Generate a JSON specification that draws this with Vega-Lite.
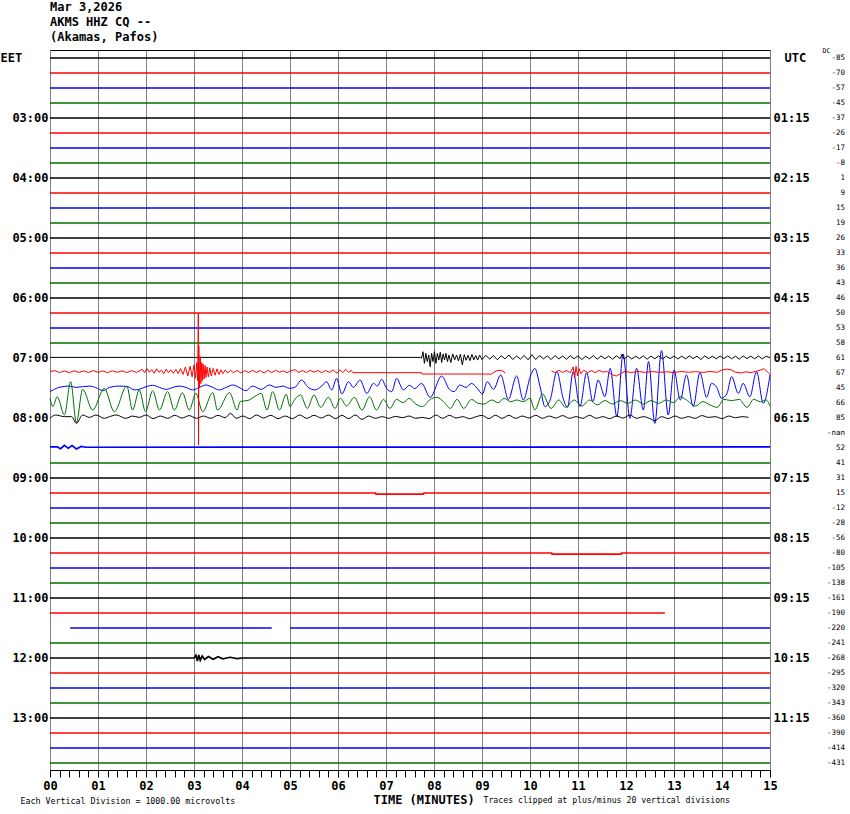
{
 "$schema": "https://vega.github.io/schema/vega-lite/v6.json",
 "width": 720,
 "height": 720,
 "autosize": {"type": "none"},
 "padding": {"left": 50, "top": 50, "right": 80, "bottom": 44},
 "background": "white",
 "title": {"text": ["Mar 3,2026", "AKMS HHZ CQ --", "(Akamas, Pafos)"], "anchor": "start", "frame": "group", "font": "DejaVu Sans Mono", "fontSize": 12, "fontWeight": "bold", "lineHeight": 15, "offset": 3, "color": "#000000"},
 "config": {
  "view": {"stroke": null},
  "axis": {"labelFont": "DejaVu Sans Mono", "labelFontWeight": "bold", "labelFontSize": 12, "labelColor": "#000000", "titleFont": "DejaVu Sans Mono", "titleColor": "#000000"}
 },
 "datasets": {
  "quiet": [
   {"s":"r0","q":"00","t":0,"y":0},{"s":"r0","q":"00","t":15,"y":0},
   {"s":"r1","q":"15","t":0,"y":1},{"s":"r1","q":"15","t":15,"y":1},
   {"s":"r2","q":"30","t":0,"y":2},{"s":"r2","q":"30","t":15,"y":2},
   {"s":"r3","q":"45","t":0,"y":3},{"s":"r3","q":"45","t":15,"y":3},
   {"s":"r4","q":"00","t":0,"y":4},{"s":"r4","q":"00","t":15,"y":4},
   {"s":"r5","q":"15","t":0,"y":5},{"s":"r5","q":"15","t":15,"y":5},
   {"s":"r6","q":"30","t":0,"y":6},{"s":"r6","q":"30","t":15,"y":6},
   {"s":"r7","q":"45","t":0,"y":7},{"s":"r7","q":"45","t":15,"y":7},
   {"s":"r8","q":"00","t":0,"y":8},{"s":"r8","q":"00","t":15,"y":8},
   {"s":"r9","q":"15","t":0,"y":9},{"s":"r9","q":"15","t":15,"y":9},
   {"s":"r10","q":"30","t":0,"y":10},{"s":"r10","q":"30","t":15,"y":10},
   {"s":"r11","q":"45","t":0,"y":11},{"s":"r11","q":"45","t":15,"y":11},
   {"s":"r12","q":"00","t":0,"y":12},{"s":"r12","q":"00","t":15,"y":12},
   {"s":"r13","q":"15","t":0,"y":13},{"s":"r13","q":"15","t":15,"y":13},
   {"s":"r14","q":"30","t":0,"y":14},{"s":"r14","q":"30","t":15,"y":14},
   {"s":"r15","q":"45","t":0,"y":15},{"s":"r15","q":"45","t":15,"y":15},
   {"s":"r16","q":"00","t":0,"y":16},{"s":"r16","q":"00","t":15,"y":16},
   {"s":"r17","q":"15","t":0,"y":17},{"s":"r17","q":"15","t":15,"y":17},
   {"s":"r18","q":"30","t":0,"y":18},{"s":"r18","q":"30","t":15,"y":18},
   {"s":"r19","q":"45","t":0,"y":19},{"s":"r19","q":"45","t":15,"y":19},
   {"s":"r26","q":"30","t":0,"y":25.93},{"s":"r26","q":"30","t":0.15,"y":25.93},{"s":"r26","q":"30","t":0.22,"y":26.05},{"s":"r26","q":"30","t":0.3,"y":25.82},{"s":"r26","q":"30","t":0.38,"y":26.02},{"s":"r26","q":"30","t":0.46,"y":25.84},{"s":"r26","q":"30","t":0.55,"y":26.06},{"s":"r26","q":"30","t":0.65,"y":25.9},{"s":"r26","q":"30","t":0.75,"y":25.95},{"s":"r26","q":"30","t":15,"y":25.93},
   {"s":"r27","q":"45","t":0,"y":27},{"s":"r27","q":"45","t":15,"y":27},
   {"s":"r28","q":"00","t":0,"y":28},{"s":"r28","q":"00","t":15,"y":28},
   {"s":"r29","q":"15","t":0,"y":29},{"s":"r29","q":"15","t":6.78,"y":29},{"s":"r29","q":"15","t":6.79,"y":29.08},{"s":"r29","q":"15","t":7.78,"y":29.08},{"s":"r29","q":"15","t":7.79,"y":29},{"s":"r29","q":"15","t":15,"y":29},
   {"s":"r30","q":"30","t":0,"y":30},{"s":"r30","q":"30","t":15,"y":30},
   {"s":"r31","q":"45","t":0,"y":31},{"s":"r31","q":"45","t":15,"y":31},
   {"s":"r32","q":"00","t":0,"y":32},{"s":"r32","q":"00","t":15,"y":32},
   {"s":"r33","q":"15","t":0,"y":33},{"s":"r33","q":"15","t":10.45,"y":33},{"s":"r33","q":"15","t":10.46,"y":33.08},{"s":"r33","q":"15","t":11.9,"y":33.08},{"s":"r33","q":"15","t":11.91,"y":33},{"s":"r33","q":"15","t":15,"y":33},
   {"s":"r34","q":"30","t":0,"y":34},{"s":"r34","q":"30","t":15,"y":34},
   {"s":"r35","q":"45","t":0,"y":35},{"s":"r35","q":"45","t":15,"y":35},
   {"s":"r36","q":"00","t":0,"y":36},{"s":"r36","q":"00","t":15,"y":36},
   {"s":"r37","q":"15","t":0,"y":37},{"s":"r37","q":"15","t":12.81,"y":37},
   {"s":"r38a","q":"30","t":0.42,"y":38},{"s":"r38a","q":"30","t":4.62,"y":38},
   {"s":"r38b","q":"30","t":5.0,"y":38},{"s":"r38b","q":"30","t":15,"y":38},
   {"s":"r39","q":"45","t":0,"y":39},{"s":"r39","q":"45","t":15,"y":39},
   {"s":"r40","q":"00","t":0,"y":40},{"s":"r40","q":"00","t":3.0,"y":40},{"s":"r40","q":"00","t":3.04,"y":39.82},{"s":"r40","q":"00","t":3.07,"y":40.2},{"s":"r40","q":"00","t":3.1,"y":39.8},{"s":"r40","q":"00","t":3.13,"y":40.15},{"s":"r40","q":"00","t":3.17,"y":39.86},{"s":"r40","q":"00","t":3.22,"y":40.1},{"s":"r40","q":"00","t":3.3,"y":39.9},{"s":"r40","q":"00","t":3.4,"y":40.08},{"s":"r40","q":"00","t":3.5,"y":39.92},{"s":"r40","q":"00","t":3.6,"y":40.06},{"s":"r40","q":"00","t":3.75,"y":39.95},{"s":"r40","q":"00","t":3.9,"y":40.04},{"s":"r40","q":"00","t":4.0,"y":40},{"s":"r40","q":"00","t":15,"y":40},
   {"s":"r41","q":"15","t":0,"y":41},{"s":"r41","q":"15","t":15,"y":41},
   {"s":"r42","q":"30","t":0,"y":42},{"s":"r42","q":"30","t":15,"y":42},
   {"s":"r43","q":"45","t":0,"y":43},{"s":"r43","q":"45","t":15,"y":43},
   {"s":"r44","q":"00","t":0,"y":44},{"s":"r44","q":"00","t":15,"y":44},
   {"s":"r45","q":"15","t":0,"y":45},{"s":"r45","q":"15","t":15,"y":45},
   {"s":"r46","q":"30","t":0,"y":46},{"s":"r46","q":"30","t":15,"y":46},
   {"s":"r47","q":"45","t":0,"y":47},{"s":"r47","q":"45","t":15,"y":47}
  ],
  "noise": [
   {"s":"a20","q":"00","t":0,"y":19.96},{"s":"a20","q":"00","t":7.72,"y":19.96},{"s":"a20","q":"00","t":7.74,"y":20.02},{"s":"a20","q":"00","t":7.77,"y":19.58},{"s":"a20","q":"00","t":7.8,"y":20.36},{"s":"a20","q":"00","t":7.83,"y":19.69},{"s":"a20","q":"00","t":7.86,"y":20.24},{"s":"a20","q":"00","t":7.89,"y":19.8},{"s":"a20","q":"00","t":7.92,"y":20.58},{"s":"a20","q":"00","t":7.95,"y":19.69},{"s":"a20","q":"00","t":7.98,"y":20.24},{"s":"a20","q":"00","t":8.01,"y":19.58},{"s":"a20","q":"00","t":8.04,"y":20.36},{"s":"a20","q":"00","t":8.07,"y":19.69},{"s":"a20","q":"00","t":8.1,"y":20.13},{"s":"a20","q":"00","t":8.13,"y":19.62},{"s":"a20","q":"00","t":8.16,"y":20.3},{"s":"a20","q":"00","t":8.19,"y":19.73},{"s":"a20","q":"00","t":8.22,"y":20.13},{"s":"a20","q":"00","t":8.25,"y":19.69},{"s":"a20","q":"00","t":8.28,"y":20.24},{"s":"a20","q":"00","t":8.31,"y":19.8},{"s":"a20","q":"00","t":8.35,"y":20.3},{"s":"a20","q":"00","t":8.39,"y":19.73},{"s":"a20","q":"00","t":8.43,"y":20.13},{"s":"a20","q":"00","t":8.47,"y":19.8},{"s":"a20","q":"00","t":8.51,"y":20.2},{"s":"a20","q":"00","t":8.55,"y":19.75},{"s":"a20","q":"00","t":8.59,"y":20.45},{"s":"a20","q":"00","t":8.63,"y":19.78},{"s":"a20","q":"00","t":8.67,"y":20.15},{"s":"a20","q":"00","t":8.71,"y":19.82},{"s":"a20","q":"00","t":8.75,"y":20.18},{"s":"a20","q":"00","t":8.79,"y":19.76},{"s":"a20","q":"00","t":8.83,"y":20.12},{"s":"a20","q":"00","t":8.87,"y":19.84},{"s":"a20","q":"00","t":8.91,"y":20.14},{"s":"a20","q":"00","t":8.95,"y":19.8},{"s":"a20","q":"00","t":9.0,"y":20.1},{"s":"a20","q":"00","t":9.08,"y":19.82},{"s":"a20","q":"00","t":9.16,"y":20.08},{"s":"a20","q":"00","t":9.24,"y":19.84},{"s":"a20","q":"00","t":9.32,"y":20.12},{"s":"a20","q":"00","t":9.4,"y":19.85},{"s":"a20","q":"00","t":9.48,"y":20.06},{"s":"a20","q":"00","t":9.56,"y":19.8},{"s":"a20","q":"00","t":9.64,"y":20.1},{"s":"a20","q":"00","t":9.72,"y":19.86},{"s":"a20","q":"00","t":9.8,"y":20.08},{"s":"a20","q":"00","t":9.88,"y":19.83},{"s":"a20","q":"00","t":9.96,"y":20.12},{"s":"a20","q":"00","t":10.04,"y":19.78},{"s":"a20","q":"00","t":10.12,"y":20.1},{"s":"a20","q":"00","t":10.2,"y":19.84},{"s":"a20","q":"00","t":10.28,"y":20.06},{"s":"a20","q":"00","t":10.36,"y":19.86},{"s":"a20","q":"00","t":10.44,"y":20.1},{"s":"a20","q":"00","t":10.52,"y":19.84},{"s":"a20","q":"00","t":10.6,"y":20.06},{"s":"a20","q":"00","t":10.68,"y":19.87},{"s":"a20","q":"00","t":10.76,"y":20.08},{"s":"a20","q":"00","t":10.84,"y":19.85},{"s":"a20","q":"00","t":10.92,"y":20.05},{"s":"a20","q":"00","t":11.0,"y":19.86},{"s":"a20","q":"00","t":11.08,"y":20.1},{"s":"a20","q":"00","t":11.16,"y":19.88},{"s":"a20","q":"00","t":11.24,"y":20.06},{"s":"a20","q":"00","t":11.32,"y":19.84},{"s":"a20","q":"00","t":11.4,"y":20.08},{"s":"a20","q":"00","t":11.48,"y":19.86},{"s":"a20","q":"00","t":11.56,"y":20.05},{"s":"a20","q":"00","t":11.64,"y":19.87},{"s":"a20","q":"00","t":11.72,"y":20.08},{"s":"a20","q":"00","t":11.8,"y":19.85},{"s":"a20","q":"00","t":11.88,"y":20.04},{"s":"a20","q":"00","t":11.92,"y":19.74},{"s":"a20","q":"00","t":11.96,"y":20.08},{"s":"a20","q":"00","t":12.04,"y":19.86},{"s":"a20","q":"00","t":12.12,"y":20.06},{"s":"a20","q":"00","t":12.2,"y":19.88},{"s":"a20","q":"00","t":12.28,"y":20.04},{"s":"a20","q":"00","t":12.36,"y":19.86},{"s":"a20","q":"00","t":12.44,"y":20.08},{"s":"a20","q":"00","t":12.52,"y":19.87},{"s":"a20","q":"00","t":12.6,"y":20.05},{"s":"a20","q":"00","t":12.68,"y":19.86},{"s":"a20","q":"00","t":12.76,"y":20.06},{"s":"a20","q":"00","t":12.84,"y":19.88},{"s":"a20","q":"00","t":12.92,"y":20.04},{"s":"a20","q":"00","t":13.0,"y":19.87},{"s":"a20","q":"00","t":13.08,"y":20.06},{"s":"a20","q":"00","t":13.16,"y":19.88},{"s":"a20","q":"00","t":13.24,"y":20.05},{"s":"a20","q":"00","t":13.32,"y":19.86},{"s":"a20","q":"00","t":13.4,"y":20.04},{"s":"a20","q":"00","t":13.48,"y":19.88},{"s":"a20","q":"00","t":13.56,"y":20.1},{"s":"a20","q":"00","t":13.64,"y":19.86},{"s":"a20","q":"00","t":13.72,"y":20.04},{"s":"a20","q":"00","t":13.8,"y":19.88},{"s":"a20","q":"00","t":13.88,"y":20.05},{"s":"a20","q":"00","t":13.96,"y":19.87},{"s":"a20","q":"00","t":14.04,"y":20.04},{"s":"a20","q":"00","t":14.12,"y":19.86},{"s":"a20","q":"00","t":14.2,"y":20.05},{"s":"a20","q":"00","t":14.28,"y":19.88},{"s":"a20","q":"00","t":14.36,"y":20.08},{"s":"a20","q":"00","t":14.44,"y":19.86},{"s":"a20","q":"00","t":14.52,"y":20.04},{"s":"a20","q":"00","t":14.6,"y":19.88},{"s":"a20","q":"00","t":14.68,"y":20.05},{"s":"a20","q":"00","t":14.76,"y":19.87},{"s":"a20","q":"00","t":14.84,"y":20.06},{"s":"a20","q":"00","t":14.92,"y":19.88},{"s":"a20","q":"00","t":15.0,"y":19.98},

   {"s":"a21a","q":"15","t":0,"y":20.91},{"s":"a21a","q":"15","t":0.1,"y":20.84},{"s":"a21a","q":"15","t":0.2,"y":20.97},{"s":"a21a","q":"15","t":0.3,"y":20.86},{"s":"a21a","q":"15","t":0.4,"y":20.98},{"s":"a21a","q":"15","t":0.5,"y":20.85},{"s":"a21a","q":"15","t":0.6,"y":20.96},{"s":"a21a","q":"15","t":0.7,"y":20.86},{"s":"a21a","q":"15","t":0.8,"y":20.97},{"s":"a21a","q":"15","t":0.9,"y":20.84},{"s":"a21a","q":"15","t":1.0,"y":20.96},{"s":"a21a","q":"15","t":1.1,"y":20.86},{"s":"a21a","q":"15","t":1.2,"y":20.98},{"s":"a21a","q":"15","t":1.3,"y":20.85},{"s":"a21a","q":"15","t":1.4,"y":20.95},{"s":"a21a","q":"15","t":1.5,"y":20.86},{"s":"a21a","q":"15","t":1.6,"y":20.97},{"s":"a21a","q":"15","t":1.7,"y":20.84},{"s":"a21a","q":"15","t":1.8,"y":20.96},{"s":"a21a","q":"15","t":1.87,"y":20.85},{"s":"a21a","q":"15","t":1.92,"y":20.75},{"s":"a21a","q":"15","t":1.97,"y":20.98},{"s":"a21a","q":"15","t":2.02,"y":20.7},{"s":"a21a","q":"15","t":2.07,"y":20.95},{"s":"a21a","q":"15","t":2.12,"y":20.78},{"s":"a21a","q":"15","t":2.17,"y":21.02},{"s":"a21a","q":"15","t":2.22,"y":20.72},{"s":"a21a","q":"15","t":2.27,"y":20.96},{"s":"a21a","q":"15","t":2.32,"y":20.8},{"s":"a21a","q":"15","t":2.37,"y":21.05},{"s":"a21a","q":"15","t":2.42,"y":20.74},{"s":"a21a","q":"15","t":2.47,"y":20.98},{"s":"a21a","q":"15","t":2.52,"y":20.79},{"s":"a21a","q":"15","t":2.57,"y":21.02},{"s":"a21a","q":"15","t":2.62,"y":20.76},{"s":"a21a","q":"15","t":2.67,"y":21.04},{"s":"a21a","q":"15","t":2.72,"y":20.7},{"s":"a21a","q":"15","t":2.77,"y":21.1},{"s":"a21a","q":"15","t":2.82,"y":20.6},{"s":"a21a","q":"15","t":2.87,"y":21.2},{"s":"a21a","q":"15","t":2.92,"y":20.55},{"s":"a21a","q":"15","t":2.96,"y":21.25},{"s":"a21a","q":"15","t":3.0,"y":20.45},{"s":"a21a","q":"15","t":3.03,"y":21.35},{"s":"a21a","q":"15","t":3.06,"y":20.3},{"s":"a21a","q":"15","t":3.075,"y":21.5},{"s":"a21a","q":"15","t":3.085,"y":19.1},{"s":"a21a","q":"15","t":3.09,"y":17.0},{"s":"a21a","q":"15","t":3.095,"y":25.8},{"s":"a21a","q":"15","t":3.1,"y":19.2},{"s":"a21a","q":"15","t":3.115,"y":22.0},{"s":"a21a","q":"15","t":3.13,"y":19.9},{"s":"a21a","q":"15","t":3.145,"y":21.7},{"s":"a21a","q":"15","t":3.16,"y":20.3},{"s":"a21a","q":"15","t":3.175,"y":21.5},{"s":"a21a","q":"15","t":3.19,"y":20.4},{"s":"a21a","q":"15","t":3.21,"y":21.4},{"s":"a21a","q":"15","t":3.23,"y":20.5},{"s":"a21a","q":"15","t":3.25,"y":21.3},{"s":"a21a","q":"15","t":3.27,"y":20.6},{"s":"a21a","q":"15","t":3.3,"y":21.25},{"s":"a21a","q":"15","t":3.33,"y":20.65},{"s":"a21a","q":"15","t":3.36,"y":21.2},{"s":"a21a","q":"15","t":3.4,"y":20.7},{"s":"a21a","q":"15","t":3.44,"y":21.15},{"s":"a21a","q":"15","t":3.48,"y":20.72},{"s":"a21a","q":"15","t":3.52,"y":21.1},{"s":"a21a","q":"15","t":3.56,"y":20.78},{"s":"a21a","q":"15","t":3.6,"y":21.05},{"s":"a21a","q":"15","t":3.65,"y":20.8},{"s":"a21a","q":"15","t":3.7,"y":21.0},{"s":"a21a","q":"15","t":3.76,"y":20.82},{"s":"a21a","q":"15","t":3.82,"y":20.98},{"s":"a21a","q":"15","t":3.9,"y":20.83},{"s":"a21a","q":"15","t":3.98,"y":21.0},{"s":"a21a","q":"15","t":4.06,"y":20.84},{"s":"a21a","q":"15","t":4.14,"y":20.97},{"s":"a21a","q":"15","t":4.22,"y":20.82},{"s":"a21a","q":"15","t":4.3,"y":20.96},{"s":"a21a","q":"15","t":4.38,"y":20.84},{"s":"a21a","q":"15","t":4.46,"y":21.0},{"s":"a21a","q":"15","t":4.54,"y":20.83},{"s":"a21a","q":"15","t":4.62,"y":20.97},{"s":"a21a","q":"15","t":4.7,"y":20.82},{"s":"a21a","q":"15","t":4.78,"y":20.95},{"s":"a21a","q":"15","t":4.86,"y":20.86},{"s":"a21a","q":"15","t":4.94,"y":20.98},{"s":"a21a","q":"15","t":5.02,"y":20.84},{"s":"a21a","q":"15","t":5.1,"y":20.78},{"s":"a21a","q":"15","t":5.18,"y":20.96},{"s":"a21a","q":"15","t":5.26,"y":20.84},{"s":"a21a","q":"15","t":5.34,"y":20.97},{"s":"a21a","q":"15","t":5.42,"y":20.82},{"s":"a21a","q":"15","t":5.5,"y":20.95},{"s":"a21a","q":"15","t":5.58,"y":20.83},{"s":"a21a","q":"15","t":5.66,"y":20.98},{"s":"a21a","q":"15","t":5.74,"y":20.84},{"s":"a21a","q":"15","t":5.82,"y":20.96},{"s":"a21a","q":"15","t":5.9,"y":20.8},{"s":"a21a","q":"15","t":5.98,"y":21.02},{"s":"a21a","q":"15","t":6.04,"y":20.78},{"s":"a21a","q":"15","t":6.1,"y":20.98},{"s":"a21a","q":"15","t":6.16,"y":20.76},{"s":"a21a","q":"15","t":6.22,"y":20.95},{"s":"a21a","q":"15","t":6.28,"y":20.84},{"s":"a21a","q":"15","t":6.31,"y":20.98},{"s":"a21a","q":"15","t":7.74,"y":20.98},{"s":"a21a","q":"15","t":7.75,"y":21.07},{"s":"a21a","q":"15","t":9.2,"y":21.07},{"s":"a21a","q":"15","t":9.25,"y":20.95},{"s":"a21a","q":"15","t":9.32,"y":20.84},{"s":"a21a","q":"15","t":9.4,"y":20.82},{"s":"a21a","q":"15","t":9.46,"y":20.92},{"s":"a21a","q":"15","t":9.48,"y":21.02},

   {"s":"a21b","q":"15","t":10.45,"y":20.86},{"s":"a21b","q":"15","t":10.52,"y":20.98},{"s":"a21b","q":"15","t":10.6,"y":20.82},{"s":"a21b","q":"15","t":10.68,"y":20.96},{"s":"a21b","q":"15","t":10.76,"y":20.84},{"s":"a21b","q":"15","t":10.84,"y":20.98},{"s":"a21b","q":"15","t":10.9,"y":20.6},{"s":"a21b","q":"15","t":10.93,"y":21.3},{"s":"a21b","q":"15","t":10.96,"y":20.55},{"s":"a21b","q":"15","t":10.99,"y":21.2},{"s":"a21b","q":"15","t":11.02,"y":20.7},{"s":"a21b","q":"15","t":11.06,"y":21.05},{"s":"a21b","q":"15","t":11.12,"y":20.82},{"s":"a21b","q":"15","t":11.2,"y":20.97},{"s":"a21b","q":"15","t":11.28,"y":20.84},{"s":"a21b","q":"15","t":11.36,"y":20.98},{"s":"a21b","q":"15","t":11.44,"y":20.82},{"s":"a21b","q":"15","t":11.52,"y":20.94},{"s":"a21b","q":"15","t":11.6,"y":20.9},{"s":"a21b","q":"15","t":11.72,"y":21.12},{"s":"a21b","q":"15","t":11.8,"y":21.2},{"s":"a21b","q":"15","t":11.88,"y":21.05},{"s":"a21b","q":"15","t":11.98,"y":20.88},{"s":"a21b","q":"15","t":12.1,"y":20.97},{"s":"a21b","q":"15","t":12.25,"y":20.9},{"s":"a21b","q":"15","t":12.4,"y":20.96},{"s":"a21b","q":"15","t":12.55,"y":20.9},{"s":"a21b","q":"15","t":12.7,"y":20.96},{"s":"a21b","q":"15","t":12.85,"y":20.92},{"s":"a21b","q":"15","t":13.0,"y":20.97},{"s":"a21b","q":"15","t":13.15,"y":20.9},{"s":"a21b","q":"15","t":13.3,"y":20.95},{"s":"a21b","q":"15","t":13.45,"y":20.91},{"s":"a21b","q":"15","t":13.6,"y":20.96},{"s":"a21b","q":"15","t":13.75,"y":20.9},{"s":"a21b","q":"15","t":13.9,"y":20.95},{"s":"a21b","q":"15","t":14.0,"y":20.8},{"s":"a21b","q":"15","t":14.1,"y":20.74},{"s":"a21b","q":"15","t":14.2,"y":20.8},{"s":"a21b","q":"15","t":14.28,"y":20.95},{"s":"a21b","q":"15","t":14.4,"y":21.0},{"s":"a21b","q":"15","t":14.5,"y":20.92},{"s":"a21b","q":"15","t":14.6,"y":20.97},{"s":"a21b","q":"15","t":14.7,"y":20.9},{"s":"a21b","q":"15","t":14.8,"y":20.8},{"s":"a21b","q":"15","t":14.88,"y":20.72},{"s":"a21b","q":"15","t":14.95,"y":20.95},{"s":"a21b","q":"15","t":15.0,"y":21.1}
  ],
  "active": [
   {"s":"a22","q":"30","t":0,"y":22.24},{"s":"a22","q":"30","t":0.09,"y":22.09},{"s":"a22","q":"30","t":0.19,"y":21.96},{"s":"a22","q":"30","t":0.4,"y":21.87},{"s":"a22","q":"30","t":0.54,"y":21.96},{"s":"a22","q":"30","t":0.82,"y":21.87},{"s":"a22","q":"30","t":0.99,"y":22.02},{"s":"a22","q":"30","t":1.1,"y":22.18},{"s":"a22","q":"30","t":1.24,"y":21.96},{"s":"a22","q":"30","t":1.44,"y":21.87},{"s":"a22","q":"30","t":1.62,"y":21.91},{"s":"a22","q":"30","t":1.76,"y":22.13},{"s":"a22","q":"30","t":1.86,"y":22.09},{"s":"a22","q":"30","t":2.0,"y":21.91},{"s":"a22","q":"30","t":2.14,"y":21.82},{"s":"a22","q":"30","t":2.28,"y":21.96},{"s":"a22","q":"30","t":2.42,"y":22.09},{"s":"a22","q":"30","t":2.56,"y":21.96},{"s":"a22","q":"30","t":2.69,"y":21.87},{"s":"a22","q":"30","t":2.83,"y":21.96},{"s":"a22","q":"30","t":2.97,"y":22.13},{"s":"a22","q":"30","t":3.11,"y":21.96},{"s":"a22","q":"30","t":3.25,"y":21.8},{"s":"a22","q":"30","t":3.39,"y":21.96},{"s":"a22","q":"30","t":3.53,"y":22.13},{"s":"a22","q":"30","t":3.67,"y":21.96},{"s":"a22","q":"30","t":3.81,"y":21.8},{"s":"a22","q":"30","t":3.94,"y":21.96},{"s":"a22","q":"30","t":4.08,"y":22.18},{"s":"a22","q":"30","t":4.22,"y":21.87},{"s":"a22","q":"30","t":4.4,"y":22.09},{"s":"a22","q":"30","t":4.57,"y":21.8},{"s":"a22","q":"30","t":4.71,"y":21.96},{"s":"a22","q":"30","t":4.85,"y":21.87},{"s":"a22","q":"30","t":4.99,"y":22.02},{"s":"a22","q":"30","t":5.1,"y":21.96},{"s":"a22","q":"30","t":5.24,"y":21.47},{"s":"a22","q":"30","t":5.38,"y":21.96},{"s":"a22","q":"30","t":5.52,"y":22.13},{"s":"a22","q":"30","t":5.66,"y":21.87},{"s":"a22","q":"30","t":5.76,"y":21.58},{"s":"a22","q":"30","t":5.87,"y":22.13},{"s":"a22","q":"30","t":5.97,"y":21.36},{"s":"a22","q":"30","t":6.08,"y":22.4},{"s":"a22","q":"30","t":6.22,"y":21.58},{"s":"a22","q":"30","t":6.32,"y":21.96},{"s":"a22","q":"30","t":6.46,"y":21.47},{"s":"a22","q":"30","t":6.6,"y":22.36},{"s":"a22","q":"30","t":6.74,"y":21.69},{"s":"a22","q":"30","t":6.82,"y":21.87},{"s":"a22","q":"30","t":6.91,"y":21.42},{"s":"a22","q":"30","t":7.01,"y":22.02},{"s":"a22","q":"30","t":7.12,"y":22.24},{"s":"a22","q":"30","t":7.22,"y":21.36},{"s":"a22","q":"30","t":7.36,"y":22.13},{"s":"a22","q":"30","t":7.49,"y":21.82},{"s":"a22","q":"30","t":7.6,"y":22.04},{"s":"a22","q":"30","t":7.74,"y":21.69},{"s":"a22","q":"30","t":7.92,"y":22.62},{"s":"a22","q":"30","t":8.16,"y":21.2},{"s":"a22","q":"30","t":8.32,"y":22.09},{"s":"a22","q":"30","t":8.42,"y":22.24},{"s":"a22","q":"30","t":8.54,"y":21.8},{"s":"a22","q":"30","t":8.67,"y":21.96},{"s":"a22","q":"30","t":8.78,"y":21.69},{"s":"a22","q":"30","t":8.9,"y":22.02},{"s":"a22","q":"30","t":9.01,"y":22.4},{"s":"a22","q":"30","t":9.11,"y":21.58},{"s":"a22","q":"30","t":9.24,"y":22.09},{"s":"a22","q":"30","t":9.39,"y":21.13},{"s":"a22","q":"30","t":9.55,"y":22.76},{"s":"a22","q":"30","t":9.72,"y":21.2},{"s":"a22","q":"30","t":9.86,"y":22.8},{"s":"a22","q":"30","t":10.01,"y":21.2},{"s":"a22","q":"30","t":10.1,"y":20.69},{"s":"a22","q":"30","t":10.21,"y":21.91},{"s":"a22","q":"30","t":10.31,"y":23.24},{"s":"a22","q":"30","t":10.42,"y":22.8},{"s":"a22","q":"30","t":10.56,"y":20.91},{"s":"a22","q":"30","t":10.69,"y":22.69},{"s":"a22","q":"30","t":10.78,"y":23.29},{"s":"a22","q":"30","t":10.9,"y":20.91},{"s":"a22","q":"30","t":11.04,"y":23.24},{"s":"a22","q":"30","t":11.18,"y":20.98},{"s":"a22","q":"30","t":11.31,"y":22.91},{"s":"a22","q":"30","t":11.42,"y":21.47},{"s":"a22","q":"30","t":11.56,"y":22.58},{"s":"a22","q":"30","t":11.67,"y":20.69},{"s":"a22","q":"30","t":11.81,"y":23.91},{"s":"a22","q":"30","t":11.94,"y":19.73},{"s":"a22","q":"30","t":12.08,"y":24.02},{"s":"a22","q":"30","t":12.22,"y":20.69},{"s":"a22","q":"30","t":12.36,"y":23.47},{"s":"a22","q":"30","t":12.47,"y":20.24},{"s":"a22","q":"30","t":12.6,"y":24.36},{"s":"a22","q":"30","t":12.74,"y":19.51},{"s":"a22","q":"30","t":12.88,"y":23.8},{"s":"a22","q":"30","t":13.0,"y":20.8},{"s":"a22","q":"30","t":13.13,"y":22.8},{"s":"a22","q":"30","t":13.26,"y":21.13},{"s":"a22","q":"30","t":13.4,"y":23.24},{"s":"a22","q":"30","t":13.54,"y":20.98},{"s":"a22","q":"30","t":13.68,"y":22.62},{"s":"a22","q":"30","t":13.78,"y":21.69},{"s":"a22","q":"30","t":13.89,"y":21.96},{"s":"a22","q":"30","t":13.99,"y":22.69},{"s":"a22","q":"30","t":14.1,"y":22.4},{"s":"a22","q":"30","t":14.2,"y":21.24},{"s":"a22","q":"30","t":14.34,"y":22.36},{"s":"a22","q":"30","t":14.44,"y":21.69},{"s":"a22","q":"30","t":14.58,"y":22.58},{"s":"a22","q":"30","t":14.72,"y":20.91},{"s":"a22","q":"30","t":14.86,"y":23.02},{"s":"a22","q":"30","t":15.0,"y":21.13},

   {"s":"a23","q":"45","t":0,"y":22.69},{"s":"a23","q":"45","t":0.06,"y":23.24},{"s":"a23","q":"45","t":0.15,"y":22.58},{"s":"a23","q":"45","t":0.3,"y":23.8},{"s":"a23","q":"45","t":0.43,"y":21.58},{"s":"a23","q":"45","t":0.55,"y":24.31},{"s":"a23","q":"45","t":0.68,"y":22.09},{"s":"a23","q":"45","t":0.89,"y":23.47},{"s":"a23","q":"45","t":1.13,"y":22.02},{"s":"a23","q":"45","t":1.34,"y":23.58},{"s":"a23","q":"45","t":1.6,"y":21.87},{"s":"a23","q":"45","t":1.72,"y":23.47},{"s":"a23","q":"45","t":1.86,"y":22.13},{"s":"a23","q":"45","t":1.99,"y":23.58},{"s":"a23","q":"45","t":2.14,"y":22.18},{"s":"a23","q":"45","t":2.28,"y":23.47},{"s":"a23","q":"45","t":2.45,"y":22.24},{"s":"a23","q":"45","t":2.59,"y":23.47},{"s":"a23","q":"45","t":2.76,"y":22.31},{"s":"a23","q":"45","t":2.9,"y":23.47},{"s":"a23","q":"45","t":3.04,"y":22.36},{"s":"a23","q":"45","t":3.18,"y":23.58},{"s":"a23","q":"45","t":3.39,"y":22.31},{"s":"a23","q":"45","t":3.49,"y":23.47},{"s":"a23","q":"45","t":3.74,"y":22.31},{"s":"a23","q":"45","t":3.9,"y":23.47},{"s":"a23","q":"45","t":3.96,"y":22.91},{"s":"a23","q":"45","t":4.15,"y":22.8},{"s":"a23","q":"45","t":4.26,"y":22.58},{"s":"a23","q":"45","t":4.4,"y":22.36},{"s":"a23","q":"45","t":4.52,"y":23.47},{"s":"a23","q":"45","t":4.64,"y":22.24},{"s":"a23","q":"45","t":4.78,"y":23.47},{"s":"a23","q":"45","t":4.92,"y":22.42},{"s":"a23","q":"45","t":5.0,"y":23.24},{"s":"a23","q":"45","t":5.1,"y":22.76},{"s":"a23","q":"45","t":5.22,"y":22.47},{"s":"a23","q":"45","t":5.36,"y":23.36},{"s":"a23","q":"45","t":5.5,"y":22.47},{"s":"a23","q":"45","t":5.64,"y":23.29},{"s":"a23","q":"45","t":5.8,"y":22.62},{"s":"a23","q":"45","t":5.94,"y":23.36},{"s":"a23","q":"45","t":6.05,"y":22.69},{"s":"a23","q":"45","t":6.18,"y":23.2},{"s":"a23","q":"45","t":6.34,"y":22.62},{"s":"a23","q":"45","t":6.5,"y":23.47},{"s":"a23","q":"45","t":6.66,"y":22.58},{"s":"a23","q":"45","t":6.8,"y":23.47},{"s":"a23","q":"45","t":6.95,"y":22.76},{"s":"a23","q":"45","t":7.08,"y":23.36},{"s":"a23","q":"45","t":7.22,"y":22.76},{"s":"a23","q":"45","t":7.36,"y":22.98},{"s":"a23","q":"45","t":7.48,"y":22.69},{"s":"a23","q":"45","t":7.62,"y":23.07},{"s":"a23","q":"45","t":7.76,"y":23.24},{"s":"a23","q":"45","t":7.92,"y":22.76},{"s":"a23","q":"45","t":8.06,"y":22.62},{"s":"a23","q":"45","t":8.2,"y":22.91},{"s":"a23","q":"45","t":8.34,"y":23.36},{"s":"a23","q":"45","t":8.48,"y":22.76},{"s":"a23","q":"45","t":8.62,"y":23.36},{"s":"a23","q":"45","t":8.78,"y":22.76},{"s":"a23","q":"45","t":8.92,"y":23.02},{"s":"a23","q":"45","t":9.04,"y":23.07},{"s":"a23","q":"45","t":9.2,"y":22.8},{"s":"a23","q":"45","t":9.34,"y":22.98},{"s":"a23","q":"45","t":9.46,"y":22.69},{"s":"a23","q":"45","t":9.6,"y":22.91},{"s":"a23","q":"45","t":9.72,"y":22.8},{"s":"a23","q":"45","t":9.86,"y":22.91},{"s":"a23","q":"45","t":10.0,"y":22.69},{"s":"a23","q":"45","t":10.1,"y":23.47},{"s":"a23","q":"45","t":10.26,"y":22.4},{"s":"a23","q":"45","t":10.44,"y":23.36},{"s":"a23","q":"45","t":10.6,"y":22.8},{"s":"a23","q":"45","t":10.74,"y":23.29},{"s":"a23","q":"45","t":10.92,"y":22.8},{"s":"a23","q":"45","t":11.08,"y":23.2},{"s":"a23","q":"45","t":11.24,"y":22.8},{"s":"a23","q":"45","t":11.4,"y":23.13},{"s":"a23","q":"45","t":11.56,"y":22.84},{"s":"a23","q":"45","t":11.72,"y":23.07},{"s":"a23","q":"45","t":11.88,"y":22.84},{"s":"a23","q":"45","t":12.04,"y":23.02},{"s":"a23","q":"45","t":12.2,"y":22.8},{"s":"a23","q":"45","t":12.36,"y":23.07},{"s":"a23","q":"45","t":12.52,"y":22.84},{"s":"a23","q":"45","t":12.68,"y":23.02},{"s":"a23","q":"45","t":12.84,"y":22.8},{"s":"a23","q":"45","t":13.0,"y":22.98},{"s":"a23","q":"45","t":13.12,"y":22.58},{"s":"a23","q":"45","t":13.26,"y":22.8},{"s":"a23","q":"45","t":13.45,"y":23.2},{"s":"a23","q":"45","t":13.6,"y":22.91},{"s":"a23","q":"45","t":13.75,"y":23.13},{"s":"a23","q":"45","t":13.9,"y":23.29},{"s":"a23","q":"45","t":14.04,"y":22.76},{"s":"a23","q":"45","t":14.2,"y":22.84},{"s":"a23","q":"45","t":14.36,"y":22.76},{"s":"a23","q":"45","t":14.52,"y":23.29},{"s":"a23","q":"45","t":14.66,"y":22.76},{"s":"a23","q":"45","t":14.8,"y":22.91},{"s":"a23","q":"45","t":14.92,"y":22.8},{"s":"a23","q":"45","t":15.0,"y":23.2},

   {"s":"a24","q":"00","t":0,"y":24.02},{"s":"a24","q":"00","t":0.12,"y":23.8},{"s":"a24","q":"00","t":0.3,"y":23.91},{"s":"a24","q":"00","t":0.45,"y":23.91},{"s":"a24","q":"00","t":0.55,"y":24.36},{"s":"a24","q":"00","t":0.68,"y":23.8},{"s":"a24","q":"00","t":0.82,"y":23.96},{"s":"a24","q":"00","t":0.96,"y":23.8},{"s":"a24","q":"00","t":1.13,"y":24.02},{"s":"a24","q":"00","t":1.24,"y":23.91},{"s":"a24","q":"00","t":1.38,"y":23.8},{"s":"a24","q":"00","t":1.58,"y":24.02},{"s":"a24","q":"00","t":1.72,"y":23.87},{"s":"a24","q":"00","t":1.86,"y":23.96},{"s":"a24","q":"00","t":2.0,"y":23.8},{"s":"a24","q":"00","t":2.15,"y":24.04},{"s":"a24","q":"00","t":2.3,"y":23.87},{"s":"a24","q":"00","t":2.45,"y":24.02},{"s":"a24","q":"00","t":2.6,"y":23.82},{"s":"a24","q":"00","t":2.75,"y":24.0},{"s":"a24","q":"00","t":2.9,"y":23.84},{"s":"a24","q":"00","t":3.05,"y":24.02},{"s":"a24","q":"00","t":3.2,"y":23.87},{"s":"a24","q":"00","t":3.35,"y":24.02},{"s":"a24","q":"00","t":3.5,"y":23.82},{"s":"a24","q":"00","t":3.65,"y":23.98},{"s":"a24","q":"00","t":3.76,"y":23.69},{"s":"a24","q":"00","t":3.88,"y":24.02},{"s":"a24","q":"00","t":4.02,"y":23.87},{"s":"a24","q":"00","t":4.16,"y":24.04},{"s":"a24","q":"00","t":4.3,"y":23.8},{"s":"a24","q":"00","t":4.45,"y":24.0},{"s":"a24","q":"00","t":4.6,"y":23.82},{"s":"a24","q":"00","t":4.75,"y":24.04},{"s":"a24","q":"00","t":4.9,"y":23.87},{"s":"a24","q":"00","t":5.05,"y":24.04},{"s":"a24","q":"00","t":5.2,"y":23.8},{"s":"a24","q":"00","t":5.35,"y":24.02},{"s":"a24","q":"00","t":5.5,"y":23.82},{"s":"a24","q":"00","t":5.65,"y":24.0},{"s":"a24","q":"00","t":5.8,"y":23.8},{"s":"a24","q":"00","t":5.95,"y":24.04},{"s":"a24","q":"00","t":6.08,"y":23.82},{"s":"a24","q":"00","t":6.22,"y":24.04},{"s":"a24","q":"00","t":6.36,"y":23.8},{"s":"a24","q":"00","t":6.5,"y":24.09},{"s":"a24","q":"00","t":6.64,"y":23.87},{"s":"a24","q":"00","t":6.78,"y":24.02},{"s":"a24","q":"00","t":6.92,"y":23.91},{"s":"a24","q":"00","t":7.06,"y":24.02},{"s":"a24","q":"00","t":7.2,"y":23.89},{"s":"a24","q":"00","t":7.34,"y":23.98},{"s":"a24","q":"00","t":7.48,"y":23.87},{"s":"a24","q":"00","t":7.62,"y":24.02},{"s":"a24","q":"00","t":7.76,"y":23.96},{"s":"a24","q":"00","t":7.9,"y":24.04},{"s":"a24","q":"00","t":8.04,"y":23.8},{"s":"a24","q":"00","t":8.18,"y":24.02},{"s":"a24","q":"00","t":8.32,"y":23.82},{"s":"a24","q":"00","t":8.46,"y":24.0},{"s":"a24","q":"00","t":8.6,"y":23.91},{"s":"a24","q":"00","t":8.74,"y":24.04},{"s":"a24","q":"00","t":8.88,"y":23.91},{"s":"a24","q":"00","t":9.0,"y":23.82},{"s":"a24","q":"00","t":9.14,"y":24.04},{"s":"a24","q":"00","t":9.28,"y":23.82},{"s":"a24","q":"00","t":9.42,"y":24.02},{"s":"a24","q":"00","t":9.56,"y":23.82},{"s":"a24","q":"00","t":9.7,"y":24.02},{"s":"a24","q":"00","t":9.84,"y":23.87},{"s":"a24","q":"00","t":9.98,"y":24.0},{"s":"a24","q":"00","t":10.12,"y":23.82},{"s":"a24","q":"00","t":10.26,"y":24.02},{"s":"a24","q":"00","t":10.4,"y":23.87},{"s":"a24","q":"00","t":10.54,"y":24.0},{"s":"a24","q":"00","t":10.68,"y":23.84},{"s":"a24","q":"00","t":10.82,"y":24.02},{"s":"a24","q":"00","t":10.96,"y":23.91},{"s":"a24","q":"00","t":11.1,"y":24.02},{"s":"a24","q":"00","t":11.24,"y":23.82},{"s":"a24","q":"00","t":11.38,"y":24.02},{"s":"a24","q":"00","t":11.52,"y":23.91},{"s":"a24","q":"00","t":11.66,"y":24.04},{"s":"a24","q":"00","t":11.8,"y":23.87},{"s":"a24","q":"00","t":11.94,"y":24.0},{"s":"a24","q":"00","t":12.08,"y":23.8},{"s":"a24","q":"00","t":12.22,"y":24.02},{"s":"a24","q":"00","t":12.36,"y":23.91},{"s":"a24","q":"00","t":12.5,"y":24.04},{"s":"a24","q":"00","t":12.6,"y":24.18},{"s":"a24","q":"00","t":12.74,"y":23.91},{"s":"a24","q":"00","t":12.88,"y":24.04},{"s":"a24","q":"00","t":13.02,"y":23.87},{"s":"a24","q":"00","t":13.16,"y":24.02},{"s":"a24","q":"00","t":13.3,"y":23.91},{"s":"a24","q":"00","t":13.44,"y":24.02},{"s":"a24","q":"00","t":13.58,"y":23.84},{"s":"a24","q":"00","t":13.72,"y":23.96},{"s":"a24","q":"00","t":13.86,"y":23.91},{"s":"a24","q":"00","t":14.0,"y":24.04},{"s":"a24","q":"00","t":14.14,"y":23.87},{"s":"a24","q":"00","t":14.28,"y":23.98},{"s":"a24","q":"00","t":14.42,"y":23.91},{"s":"a24","q":"00","t":14.55,"y":23.96}
  ],
  "rows": [
   {"r":0,"dc":"-85"},{"r":1,"dc":"-70"},{"r":2,"dc":"-57"},{"r":3,"dc":"-45"},{"r":4,"dc":"-37"},{"r":5,"dc":"-26"},{"r":6,"dc":"-17"},{"r":7,"dc":"-8"},
   {"r":8,"dc":"1"},{"r":9,"dc":"9"},{"r":10,"dc":"15"},{"r":11,"dc":"19"},{"r":12,"dc":"26"},{"r":13,"dc":"33"},{"r":14,"dc":"36"},{"r":15,"dc":"43"},
   {"r":16,"dc":"46"},{"r":17,"dc":"50"},{"r":18,"dc":"53"},{"r":19,"dc":"58"},{"r":20,"dc":"61"},{"r":21,"dc":"67"},{"r":22,"dc":"45"},{"r":23,"dc":"66"},
   {"r":24,"dc":"85"},{"r":25,"dc":"-nan"},{"r":26,"dc":"52"},{"r":27,"dc":"41"},{"r":28,"dc":"31"},{"r":29,"dc":"15"},{"r":30,"dc":"-12"},{"r":31,"dc":"-28"},
   {"r":32,"dc":"-56"},{"r":33,"dc":"-80"},{"r":34,"dc":"-105"},{"r":35,"dc":"-138"},{"r":36,"dc":"-161"},{"r":37,"dc":"-190"},{"r":38,"dc":"-220"},{"r":39,"dc":"-241"},
   {"r":40,"dc":"-268"},{"r":41,"dc":"-295"},{"r":42,"dc":"-320"},{"r":43,"dc":"-343"},{"r":44,"dc":"-360"},{"r":45,"dc":"-390"},{"r":46,"dc":"-414"},{"r":47,"dc":"-431"}
  ]
 },
 "layer": [
  {
   "data": {"name": "quiet"},
   "mark": {"type": "line", "strokeWidth": 1.7},
   "encoding": {
    "x": {"field": "t", "type": "quantitative", "scale": {"domain": [0, 15], "nice": false, "zero": false},
     "axis": {"orient": "bottom", "values": [0,1,2,3,4,5,6,7,8,9,10,11,12,13,14,15], "grid": true, "gridColor": "#808080", "gridWidth": 1, "gridOpacity": 1, "ticks": false, "domain": false,
      "labelExpr": "datum.value < 10 ? '0' + datum.value : '' + datum.value", "labelPadding": 10, "labelFlush": false, "labelOverlap": false,
      "title": "TIME (MINUTES)", "titleFontSize": 12, "titleFontWeight": "bold", "titleAlign": "left", "titleAnchor": null, "titleX": 323, "titleY": 29, "titleBaseline": "middle"}},
    "y": {"field": "y", "type": "quantitative", "scale": {"domain": [-0.5333, 47.4667], "reverse": true, "nice": false, "zero": false},
     "axis": {"orient": "left", "values": [4,8,12,16,20,24,28,32,36,40,44], "grid": false, "ticks": false, "domain": false, "labelPadding": 2,
      "labelExpr": "(datum.value/4 + 2 < 10 ? '0' : '') + (datum.value/4 + 2) + ':00'",
      "title": "EET", "titleAngle": 0, "titleX": -50, "titleY": 7, "titleAlign": "left", "titleBaseline": "middle", "titleFontSize": 12, "titleFontWeight": "bold"}},
    "color": {"field": "q", "type": "nominal", "scale": {"domain": ["00", "15", "30", "45"], "range": ["#000000", "#ff0000", "#0000ff", "#007000"]}, "legend": null},
    "detail": {"field": "s", "type": "nominal"}
   }
  },
  {
   "data": {"name": "active"},
   "mark": {"type": "line", "strokeWidth": 1, "interpolate": "monotone"},
   "encoding": {
    "x": {"field": "t", "type": "quantitative", "scale": {"domain": [0, 15], "nice": false, "zero": false},
     "axis": {"orient": "bottom", "values": [0,0.2,0.4,0.6,0.8,1,1.2,1.4,1.6,1.8,2,2.2,2.4,2.6,2.8,3,3.2,3.4,3.6,3.8,4,4.2,4.4,4.6,4.8,5,5.2,5.4,5.6,5.8,6,6.2,6.4,6.6,6.8,7,7.2,7.4,7.6,7.8,8,8.2,8.4,8.6,8.8,9,9.2,9.4,9.6,9.8,10,10.2,10.4,10.6,10.8,11,11.2,11.4,11.6,11.8,12,12.2,12.4,12.6,12.8,13,13.2,13.4,13.6,13.8,14,14.2,14.4,14.6,14.8,15],
      "grid": false, "labels": false, "ticks": true, "tickSize": 7, "tickColor": "#000000", "tickWidth": 1, "domain": true, "domainColor": "#000000", "domainWidth": 1,
      "title": "Each Vertical Division = 1000.00 microvolts", "titleFontSize": 8.3, "titleFontWeight": "normal", "titleAlign": "left", "titleAnchor": null, "titleX": -30, "titleY": 31, "titleBaseline": "middle"}},
    "y": {"field": "y", "type": "quantitative", "scale": {"domain": [-0.5333, 47.4667], "reverse": true, "nice": false, "zero": false},
     "axis": {"orient": "left", "grid": false, "labels": false, "ticks": false, "domain": false,
      "title": "Traces clipped at plus/minus 20 vertical divisions", "titleAngle": 0, "titleX": 433, "titleY": 750, "titleAlign": "left", "titleBaseline": "middle", "titleFontSize": 8.2, "titleFontWeight": "normal"}},
    "color": {"field": "q", "type": "nominal", "scale": {"domain": ["00", "15", "30", "45"], "range": ["#000000", "#ff0000", "#0000ff", "#007000"]}, "legend": null},
    "detail": {"field": "s", "type": "nominal"}
   }
  },
  {
   "data": {"name": "noise"},
   "mark": {"type": "line", "strokeWidth": 1, "interpolate": "linear"},
   "encoding": {
    "x": {"field": "t", "type": "quantitative", "scale": {"domain": [0, 15], "nice": false, "zero": false}, "axis": null},
    "y": {"field": "y", "type": "quantitative", "scale": {"domain": [-0.5333, 47.4667], "reverse": true, "nice": false, "zero": false}, "axis": null},
    "color": {"field": "q", "type": "nominal", "scale": {"domain": ["00", "15", "30", "45"], "range": ["#000000", "#ff0000", "#0000ff", "#007000"]}, "legend": null},
    "detail": {"field": "s", "type": "nominal"}
   }
  },
  {
   "data": {"name": "rows"},
   "mark": {"type": "text", "align": "right", "baseline": "middle", "dx": 75, "font": "DejaVu Sans Mono", "fontSize": 7.5, "color": "#000000"},
   "encoding": {
    "x": {"datum": 15, "type": "quantitative", "scale": {"domain": [0, 15], "nice": false, "zero": false},
     "axis": {"orient": "top", "grid": false, "labels": false, "ticks": false, "domain": true, "domainColor": "#000000", "domainWidth": 1,
      "title": "DC", "titleFontSize": 6.5, "titleFontWeight": "normal", "titleAlign": "left", "titleAnchor": null, "titleX": 772, "titleY": 0, "titleBaseline": "middle"}},
    "y": {"field": "r", "type": "quantitative", "scale": {"domain": [-0.5333, 47.4667], "reverse": true, "nice": false, "zero": false},
     "axis": {"orient": "right", "values": [4,8,12,16,20,24,28,32,36,40,44], "grid": false, "ticks": false, "domain": false, "labelAlign": "left", "labelPadding": 3,
      "labelExpr": "(datum.value/4 < 10 ? '0' : '') + (datum.value/4) + ':15'",
      "title": "UTC", "titleAngle": 0, "titleX": 14, "titleY": 7, "titleAlign": "left", "titleBaseline": "middle", "titleFontSize": 12, "titleFontWeight": "bold"}},
    "text": {"field": "dc", "type": "nominal"}
   }
  }
 ],
 "resolve": {"scale": {"x": "independent", "y": "independent"}, "axis": {"x": "independent", "y": "independent"}}
}
